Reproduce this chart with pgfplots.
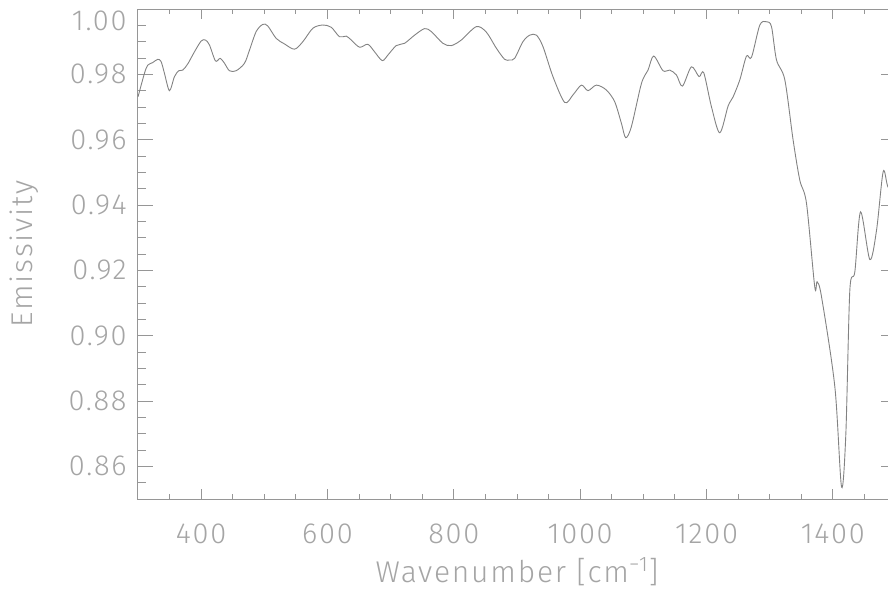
\documentclass[border=0pt]{standalone}
\usepackage{fontspec}
\setmainfont{Fira Sans Light}[LetterSpace=6]
\usepackage{pgfplots}
\pgfplotsset{compat=1.18}
\definecolor{txtgray}{RGB}{165,165,165}
\definecolor{axgray}{RGB}{150,150,150}
\definecolor{crvgray}{RGB}{130,130,130}

\begin{document}
\begin{tikzpicture}
% reference is cropped on the right, so the page stops short of the axis box
\useasboundingbox (-69pt,-46pt) rectangle (375pt,249.5pt);
\clip (-69pt,-46pt) rectangle (375pt,249.5pt);
\begin{axis}[
    at={(0,0)}, anchor=south west,
    scale only axis,
    width=379pt, height=245pt,
    xmin=300, xmax=1500,
    ymin=0.85, ymax=1.00,
    xtick={400,600,800,1000,1200,1400},
    minor xtick={300,350,...,1500},
    ytick={0.86,0.88,0.90,0.92,0.94,0.96,0.98},
    extra y ticks={1.00},
    extra y tick style={yticklabel style={yshift=-6pt}},
    minor ytick={0.855,0.865,0.87,0.875,0.885,0.89,0.895,0.905,0.91,0.915,0.925,0.93,0.935,0.945,0.95,0.955,0.965,0.97,0.975,0.985,0.99,0.995},
    tick align=inside,
    axis line style={axgray, line width=0.5pt},
    tick style={axgray, line width=0.5pt},
    xtick style={/pgfplots/major tick length=4.9pt, /pgfplots/minor tick length=2.5pt},
    ytick style={/pgfplots/major tick length=7.6pt, /pgfplots/minor tick length=4pt},
    /pgf/number format/assume math mode=true,
    xticklabel style={font=\fontsize{14.5}{16}\selectfont, text=txtgray, inner sep=0pt,
        anchor=north, yshift=-12pt, /pgf/number format/set thousands separator={}},
    yticklabel style={font=\fontsize{14.5}{16}\selectfont, text=txtgray, inner sep=0pt,
        anchor=east, xshift=-5.5pt,
        /pgf/number format/fixed, /pgf/number format/fixed zerofill,
        /pgf/number format/precision=2},
    every axis x label/.style={at={(axis description cs:0.5,0)}, anchor=base,
        yshift=-41.5pt, inner sep=0pt, font=\fontsize{15}{17}\selectfont, text=txtgray},
    every axis y label/.style={at={(axis description cs:0,0.5)}, xshift=-52.5pt,
        rotate=90, anchor=base, inner sep=0pt, font=\fontsize{15}{17}\selectfont, text=txtgray},
    xlabel={Wavenumber [cm\textsuperscript{−1}]},
    ylabel={Emissivity},
]
\addplot[crvgray, line width=0.45pt, smooth, tension=0.5] table {
300 0.9731
310.2 0.9803
315.4 0.9828
323.3 0.9836
331.3 0.9846
336.6 0.9839
341.9 0.9803
349.8 0.9750
357.7 0.9793
364.5 0.9811
370.9 0.9813
378.8 0.9832
389.4 0.9869
400 0.9902
406.8 0.9905
413.1 0.9890
422.7 0.9841
430.1 0.9849
436.9 0.9834
444.8 0.9811
455.4 0.9811
468.6 0.9834
476.5 0.9874
487.1 0.9931
497.6 0.9953
505.5 0.9948
518.8 0.9910
532 0.9893
547.8 0.9877
561 0.9900
576.8 0.9941
592.6 0.9951
605.9 0.9944
619.1 0.9915
629.7 0.9917
637.6 0.9905
650.8 0.9883
663.9 0.9892
674.5 0.9869
686.7 0.9842
695.6 0.9859
708.9 0.9888
722 0.9895
737.9 0.9920
753.7 0.9940
764.3 0.9931
782.7 0.9895
796 0.9888
811.8 0.9905
835.6 0.9946
851.5 0.9929
867.3 0.9880
880.4 0.9846
888.4 0.9844
896.3 0.9849
909.4 0.9900
920.2 0.9920
930.7 0.9920
941.1 0.9885
956.9 0.9793
975.5 0.9714
988.6 0.9737
1001.9 0.9767
1012.4 0.9750
1025.7 0.9767
1041.5 0.9752
1054.7 0.9716
1065.3 0.9650
1072.1 0.9606
1081.1 0.9640
1097 0.9772
1107.4 0.9813
1116.4 0.9856
1131.2 0.9811
1141.8 0.9813
1152.4 0.9798
1161.9 0.9764
1176.1 0.9823
1188.2 0.9793
1195.6 0.9805
1207.8 0.9701
1221 0.9621
1234.2 0.9703
1242.1 0.9731
1252.7 0.9783
1263.3 0.9856
1271.2 0.9852
1284.4 0.9951
1295 0.9961
1302.9 0.9946
1310.8 0.9844
1324 0.9783
1337.1 0.9599
1347.7 0.9476
1358.3 0.9405
1371.4 0.9149
1375.1 0.9165
1382.1 0.9119
1403.2 0.8843
1413.8 0.8537
1420.6 0.8700
1426.9 0.9139
1434.8 0.9195
1443.9 0.9379
1458.6 0.9233
1469.2 0.9323
1479.7 0.9502
1487.1 0.9456
1500 0.9420
};
\end{axis}
\end{tikzpicture}
\end{document}
